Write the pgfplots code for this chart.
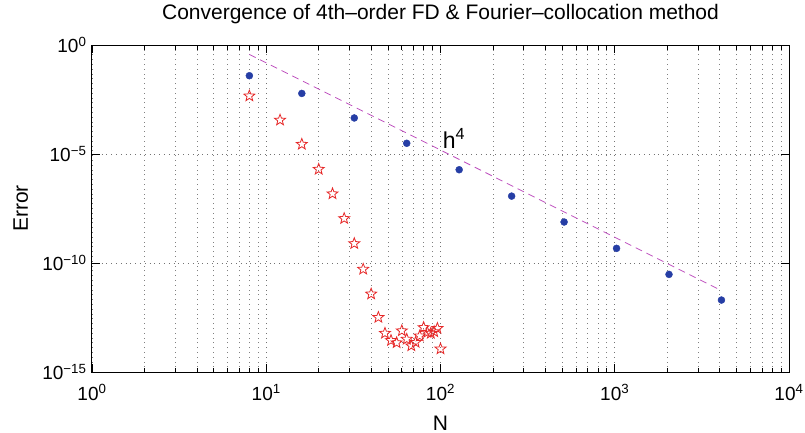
\documentclass[border=0pt]{standalone}
\usepackage{pgfplots}
\pgfplotsset{compat=1.18}
\usepackage{fontspec}
\setmainfont{Liberation Sans}
\definecolor{bluept}{RGB}{38,62,165}
\definecolor{redst}{RGB}{230,40,40}
\definecolor{magline}{RGB}{190,80,190}
\pgfdeclareplotmark{ostar}{%
  \pgfpathmoveto{\pgfpointpolar{90}{\pgfplotmarksize}}%
  \pgfpathlineto{\pgfpointpolar{126}{0.42\pgfplotmarksize}}%
  \pgfpathlineto{\pgfpointpolar{162}{\pgfplotmarksize}}%
  \pgfpathlineto{\pgfpointpolar{198}{0.42\pgfplotmarksize}}%
  \pgfpathlineto{\pgfpointpolar{234}{\pgfplotmarksize}}%
  \pgfpathlineto{\pgfpointpolar{270}{0.42\pgfplotmarksize}}%
  \pgfpathlineto{\pgfpointpolar{306}{\pgfplotmarksize}}%
  \pgfpathlineto{\pgfpointpolar{342}{0.42\pgfplotmarksize}}%
  \pgfpathlineto{\pgfpointpolar{18}{\pgfplotmarksize}}%
  \pgfpathlineto{\pgfpointpolar{54}{0.42\pgfplotmarksize}}%
  \pgfpathclose\pgfusepathqstroke}
\begin{document}
\begin{tikzpicture}
\begin{loglogaxis}[
  scale only axis, width=697pt, height=327pt,
  xmin=1, xmax=1e4, ymin=1e-15, ymax=1,
  xtick={1,10,100,1000,10000},
  xticklabels={10\textsuperscript{0},10\textsuperscript{1},10\textsuperscript{2},10\textsuperscript{3},10\textsuperscript{4}},
  minor xtick={2,3,4,5,6,7,8,9,20,30,40,50,60,70,80,90,200,300,400,500,600,700,800,900,2000,3000,4000,5000,6000,7000,8000,9000},
  ytick={1e-15,1e-10,1e-5,1},
  yticklabels={10\textsuperscript{−15},10\textsuperscript{−10},10\textsuperscript{−5},10\textsuperscript{0}},
  minor y tick style={draw=none},
  xmajorgrids, xminorgrids, ymajorgrids,
  grid style={black!55, line width=0.6pt, dash pattern=on 0.8pt off 4pt},
  minor grid style={black!50, line width=0.6pt, dash pattern=on 0.8pt off 4pt},
  tick align=inside,
  major tick length=8pt, minor tick length=4.5pt,
  tick style={black, line width=0.7pt},
  axis line style={line width=1pt},
  title={Convergence of 4th–order FD \& Fourier–collocation method},
  title style={font=\fontsize{21}{23}\selectfont, at={(axis description cs:0.5,1)}, anchor=base, yshift=19.3pt},
  xlabel={N}, ylabel={Error},
  tick label style={font=\fontsize{19}{20}\selectfont},
  xticklabel style={anchor=base, yshift=-28pt},
  yticklabel style={xshift=-2pt},
  xlabel style={font=\fontsize{21}{23}\selectfont, at={(axis description cs:0.5,0)}, anchor=base, yshift=-58pt},
  ylabel style={font=\fontsize{21}{23}\selectfont, at={([xshift=-64pt]axis description cs:0,0.5)}, anchor=base},
]
\addplot[magline, dash pattern=on 7pt off 5pt, line width=0.8pt] coordinates {(8,0.37) (4096,5.4e-12)};
\addplot[only marks, mark=*, mark size=3.5pt, color=bluept] coordinates {
(8,3.9e-2) (16,6.0e-3) (32,4.5e-4) (64,3.1e-5) (128,1.9e-6) (256,1.17e-7)
(512,7.6e-9) (1024,4.7e-10) (2048,3.0e-11) (4096,2.0e-12)};
\addplot[only marks, mark=ostar, mark size=5.8pt, color=redst, mark options={line width=0.8pt, line join=miter}] coordinates {
(8,4.6e-3) (12,3.6e-4) (16,2.8e-5) (20,2.0e-6) (24,1.5e-7) (28,1.1e-8)
(32,7.8e-10) (36,5.2e-11) (40,3.8e-12) (44,3.2e-13) (48,6.0e-14) (52,2.8e-14)
(56,2.2e-14) (60,7.8e-14) (64,3.2e-14) (68,1.6e-14) (72,2.3e-14) (76,4.5e-14)
(80,1.1e-13) (84,6.6e-14) (88,6.0e-14) (92,7.1e-14) (96,1.0e-13) (100,1.15e-14)};
\node[anchor=base west, font=\fontsize{23}{24}\selectfont, inner sep=0pt] at (axis cs:103,1.8e-5) {h\textsuperscript{4}};
\end{loglogaxis}
\pgfresetboundingbox
\path[use as bounding box] ([xshift=-92pt,yshift=-61pt]current axis.south west) rectangle ([xshift=16pt,yshift=45pt]current axis.north east);
\end{tikzpicture}
\end{document}
